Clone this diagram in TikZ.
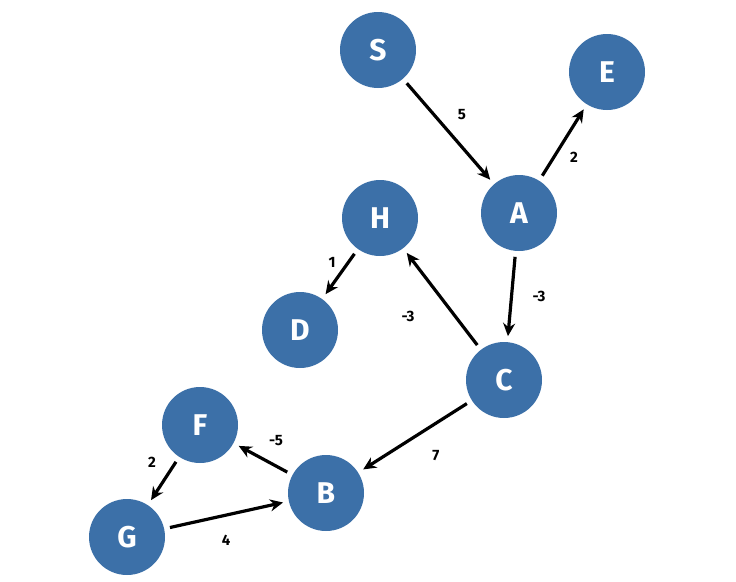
\documentclass[tikz,border=0pt]{standalone}
\usepackage{fontspec}
\setmainfont{Fira Sans}
\usetikzlibrary{arrows.meta}
\definecolor{nodeblue}{HTML}{3C70A8}
\begin{document}
\begin{tikzpicture}[x=1pt,y=-1pt,
  vert/.style={circle,fill=nodeblue,minimum size=76pt,inner sep=0pt,outer sep=6pt,text=white,font=\fontsize{30}{30}\bfseries},
  edge/.style={-{Stealth[length=13pt,width=12pt]},line width=3.2pt,black},
  wlabel/.style={font=\fontsize{15}{15}\bfseries,text=black}]
\useasboundingbox (0,0) rectangle (736,581);
\node[vert] (S) at (378,50) {S};
\node[vert] (E) at (607,72) {E};
\node[vert] (A) at (519,213) {A};
\node[vert] (H) at (380,218) {H};
\node[vert] (D) at (300,330) {D};
\node[vert] (C) at (504,380) {C};
\node[vert] (F) at (200,425) {F};
\node[vert] (B) at (326,493) {B};
\node[vert] (G) at (127,537) {G};
\draw[edge] (S) -- (A);
\draw[edge] (A) -- (E);
\draw[edge] (A) -- (C);
\draw[edge] (C) -- (H);
\draw[edge] (H) -- (D);
\draw[edge] (C) -- (B);
\draw[edge] (B) -- (F);
\draw[edge] (F) -- (G);
\draw[edge] (G) -- (B);
\node[wlabel] (l1) at (462,115) {5};
\node[wlabel] (l2) at (574,157) {2};
\node[wlabel] (l3) at (539,296) {-3};
\node[wlabel] (l4) at (408,316) {-3};
\node[wlabel] (l5) at (332,262) {1};
\node[wlabel] (l6) at (436,456) {7};
\node[wlabel] (l7) at (276,441) {-5};
\node[wlabel] (l8) at (152,462) {2};
\node[wlabel] (l9) at (226,540) {4};
\end{tikzpicture}
\end{document}
